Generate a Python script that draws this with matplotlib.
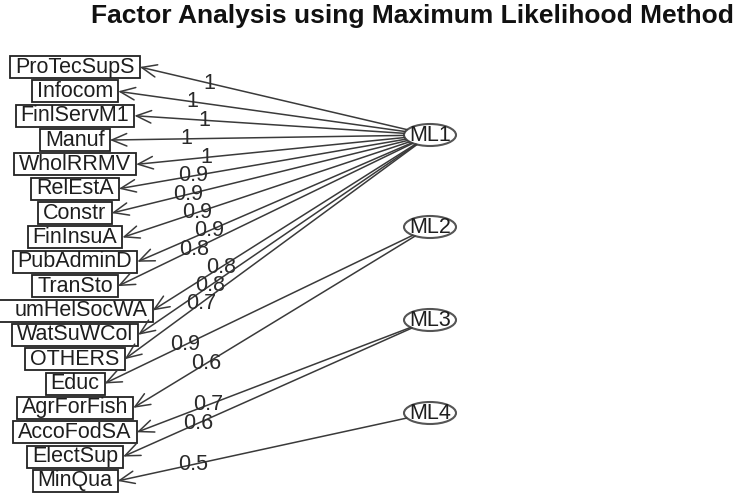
import matplotlib
matplotlib.use("Agg")
import matplotlib.pyplot as plt
from matplotlib.patches import Ellipse, Rectangle
import numpy as np

plt.rcParams['font.family'] = ['Liberation Sans', 'DejaVu Sans']

# observed variables (top to bottom), the factor each loads on, and the loading
variables = ['ProTecSupS', 'Infocom', 'FinlServM1', 'Manuf', 'WholRRMV', 'RelEstA',
             'Constr', 'FinInsuA', 'PubAdminD', 'TranSto', 'umHelSocWA', 'WatSuWCol',
             'OTHERS', 'Educ', 'AgrForFish', 'AccoFodSA', 'ElectSup', 'MinQua']
factor_of = ['ML1', 'ML1', 'ML1', 'ML1', 'ML1', 'ML1', 'ML1', 'ML1', 'ML1',
             'ML1', 'ML1', 'ML1', 'ML1', 'ML2', 'ML2', 'ML3', 'ML3', 'ML4']
loadings = [1, 1, 1, 1, 1, 0.9, 0.9, 0.9, 0.9, 0.8, 0.8, 0.8, 0.7,
            0.9, 0.6, 0.7, 0.6, 0.5]
factors = ['ML1', 'ML2', 'ML3', 'ML4']

title = "Factor Analysis using Maximum Likelihood Method"

W, H = 742, 494
fig = plt.figure(figsize=(W / 100, H / 100), dpi=100)
ax = fig.add_axes([0, 0, 1, 1])
ax.set_xlim(0, W)
ax.set_ylim(H, 0)
ax.axis('off')

line_col = '#3a3a3a'
txt_col = '#1e1e1e'

# layout in pixel units
var_x = 75
var_y0, var_dy = 67, 24.35
fac_x = 430
fac_y = {'ML1': 135, 'ML2': 227, 'ML3': 320, 'ML4': 413}
ell_w, ell_h = 52, 22
box_h = 22
pad = 5
fs = 15.5

ax.text(412, 16, title, ha='center', va='center', fontsize=19,
        fontweight='bold', color='#111111')

fig.canvas.draw()
renderer = fig.canvas.get_renderer()
inv = ax.transData.inverted()

box_right = {}
for i, name in enumerate(variables):
    y = var_y0 + i * var_dy
    x = var_x
    if name == 'umHelSocWA':  # label cut at the left edge of the picture
        x = var_x + 6
    t = ax.text(x, y, name, ha='center', va='center', fontsize=fs, color=txt_col)
    bb = t.get_window_extent(renderer)
    (x0, _), (x1, _) = inv.transform([[bb.x0, bb.y0], [bb.x1, bb.y1]])
    left = x0 - pad
    if name == 'umHelSocWA':
        left = -10
    right = x1 + pad
    ax.add_patch(Rectangle((left, y - box_h / 2), right - left, box_h,
                           fill=False, ec='#222222', lw=1.3))
    box_right[name] = (right, y)

for f in factors:
    ax.add_patch(Ellipse((fac_x, fac_y[f]), ell_w, ell_h, fill=False,
                         ec='#555555', lw=1.5))
    ax.text(fac_x, fac_y[f], f, ha='center', va='center', fontsize=fs, color=txt_col)

for name, f, val in zip(variables, factor_of, loadings):
    bx, by = box_right[name]
    cx, cy = fac_x, fac_y[f]
    dx, dy = bx - cx, by - cy
    s = 1 / np.sqrt((dx / (ell_w / 2)) ** 2 + (dy / (ell_h / 2)) ** 2)
    sx, sy = cx + dx * s, cy + dy * s
    ax.annotate('', xy=(bx, by), xytext=(sx, sy),
                arrowprops=dict(arrowstyle='->,head_length=0.6,head_width=0.25',
                                color=line_col, lw=1.1, shrinkA=0, shrinkB=0,
                                mutation_scale=18))
    lx = bx + 0.26 * (sx - bx)
    ly = by + 0.26 * (sy - by)
    ax.text(lx, ly, '{:g}'.format(val), ha='center', va='center',
            fontsize=fs, color='#2a2a2a')

fig.savefig('out.png', dpi=100)
